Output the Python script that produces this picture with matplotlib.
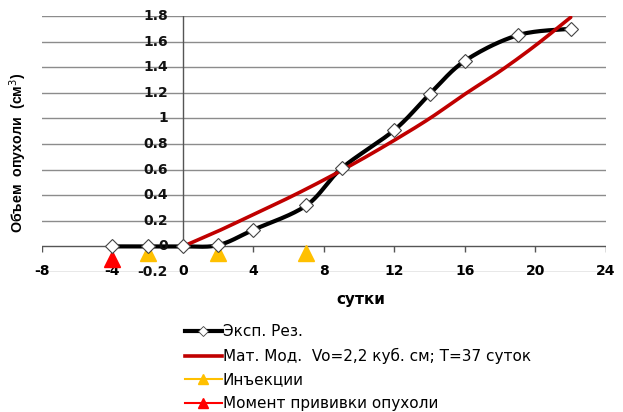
import numpy as np
import matplotlib
matplotlib.use("Agg")
import matplotlib.pyplot as plt
from matplotlib.lines import Line2D

plt.rcParams['font.family'] = ['DejaVu Sans']

# Experimental tumour volume (cm^3) by day
exp_days = [-4, -2, 0, 2, 4, 7, 9, 12, 14, 16, 19, 22]
exp_vol = [0.0, 0.0, 0.0, 0.01, 0.13, 0.32, 0.61, 0.91, 1.19, 1.45, 1.65, 1.70]

# Mathematical model curve
model_days = [0, 2, 4, 6, 8, 10, 12, 14, 16, 18, 20, 22]
model_vol = [0.0, 0.12, 0.25, 0.38, 0.52, 0.67, 0.83, 1.0, 1.19, 1.37, 1.57, 1.79]

# Injection days and the day of tumour inoculation
inj_days = [-2, 2, 7]
inj_level = [-0.05, -0.05, -0.05]
inoc_days = [-4]
inoc_level = [-0.1]

x_ticks = [-8, -4, 0, 4, 8, 12, 16, 20, 24]
x_tick_labels = ['-8', '-4', '0', '4', '8', '12', '16', '20', '24']
y_ticks = [-0.2, 0, 0.2, 0.4, 0.6, 0.8, 1, 1.2, 1.4, 1.6, 1.8]
y_tick_labels = ['-0.2', '0', '0.2', '0.4', '0.6', '0.8', '1', '1.2', '1.4', '1.6', '1.8']

legend_labels = ['Эксп. Рез.', 'Мат. Мод.  Vo=2,2 куб. см; T=37 суток',
                 'Инъекции', 'Момент прививки опухоли']


def smooth(xs, ys, n=30):
    """Catmull-Rom style smoothing through the given points."""
    xs = np.asarray(xs, float)
    ys = np.asarray(ys, float)
    px = np.concatenate([[xs[0]], xs, [xs[-1]]])
    py = np.concatenate([[ys[0]], ys, [ys[-1]]])
    out_x, out_y = [], []
    t = np.linspace(0, 1, n)
    for i in range(1, len(px) - 2):
        p0x, p1x, p2x, p3x = px[i - 1], px[i], px[i + 1], px[i + 2]
        p0y, p1y, p2y, p3y = py[i - 1], py[i], py[i + 1], py[i + 2]
        c1x = p1x + (p2x - p0x) / 6
        c1y = p1y + (p2y - p0y) / 6
        c2x = p2x - (p3x - p1x) / 6
        c2y = p2y - (p3y - p1y) / 6
        bx = (1 - t) ** 3 * p1x + 3 * (1 - t) ** 2 * t * c1x + 3 * (1 - t) * t ** 2 * c2x + t ** 3 * p2x
        by = (1 - t) ** 3 * p1y + 3 * (1 - t) ** 2 * t * c1y + 3 * (1 - t) * t ** 2 * c2y + t ** 3 * p2y
        out_x.extend(bx)
        out_y.extend(by)
    return np.array(out_x), np.array(out_y)


fig = plt.figure(figsize=(6.23, 4.12), dpi=100)
ax = fig.add_axes([0.0674, 0.3398, 0.9053, 0.6214])
ax.set_xlim(-8, 24)
ax.set_ylim(-0.2, 1.8)
for s in ax.spines.values():
    s.set_visible(False)
ax.set_xticks([])
ax.set_yticks([])

# horizontal gridlines
for yv in y_ticks:
    if yv != 0:
        ax.axhline(yv, color='#8c8c8c', lw=1.0, zorder=1)

# axes crossing at the origin
ax.axhline(0, color='#555555', lw=1.0, zorder=2)
ax.plot([0, 0], [0, 1.8], color='#555555', lw=1.0, zorder=2)
ax.vlines(x_ticks, -0.04, 0, color='#555555', lw=1.0, zorder=2)

# tick labels
for xv, lab in zip(x_ticks, x_tick_labels):
    ax.text(xv, -0.19, lab, ha='center', va='center', fontsize=10,
            fontweight='bold', zorder=5)
for yv, lab in zip(y_ticks, y_tick_labels):
    ax.text(-0.85, yv, lab, ha='right', va='center', fontsize=10,
            fontweight='bold', zorder=5, color='#111111')

# series
sx, sy = smooth(exp_days, exp_vol)
ax.plot(sx, sy, color='black', lw=3.0, zorder=3, solid_capstyle='round')
ax.plot(exp_days, exp_vol, linestyle='none', marker='D', markersize=7.5,
        markerfacecolor='white', markeredgecolor='#444444', markeredgewidth=0.8,
        zorder=6)

mx, my = smooth(model_days, model_vol)
ax.plot(mx, my, color='#c00000', lw=2.6, zorder=4, solid_capstyle='round')

ax.plot(inj_days, inj_level, linestyle='none', marker='^', markersize=11,
        color='#ffc000', zorder=5, clip_on=False)
ax.plot(inoc_days, inoc_level, linestyle='none', marker='^', markersize=11,
        color='#ff0000', zorder=5, clip_on=False)

fig.text(0.579, 0.272, 'сутки', ha='center', va='center', fontsize=11,
         fontweight='bold')
fig.text(0.029, 0.63, 'Объем  опухоли  (см$^3$)', ha='center', va='center',
         rotation=90, fontsize=10.3, fontweight='bold',
         family=['Liberation Sans', 'DejaVu Sans'])

handles = [
    Line2D([], [], color='black', lw=3.0, marker='D', markersize=5.5,
           markerfacecolor='white', markeredgecolor='#444444', markeredgewidth=0.6),
    Line2D([], [], color='#c00000', lw=2.6),
    Line2D([], [], color='#ffc000', lw=1.5, marker='^', markersize=7),
    Line2D([], [], color='#ff0000', lw=1.5, marker='^', markersize=7),
]
fig.legend(handles, legend_labels, loc='upper left', bbox_to_anchor=(0.297, 0.213),
           frameon=False, fontsize=11, handlelength=2.4, handletextpad=0.08,
           labelspacing=0.56, borderpad=0, borderaxespad=0, markerscale=1.0)

fig.savefig('out.png', dpi=100)
